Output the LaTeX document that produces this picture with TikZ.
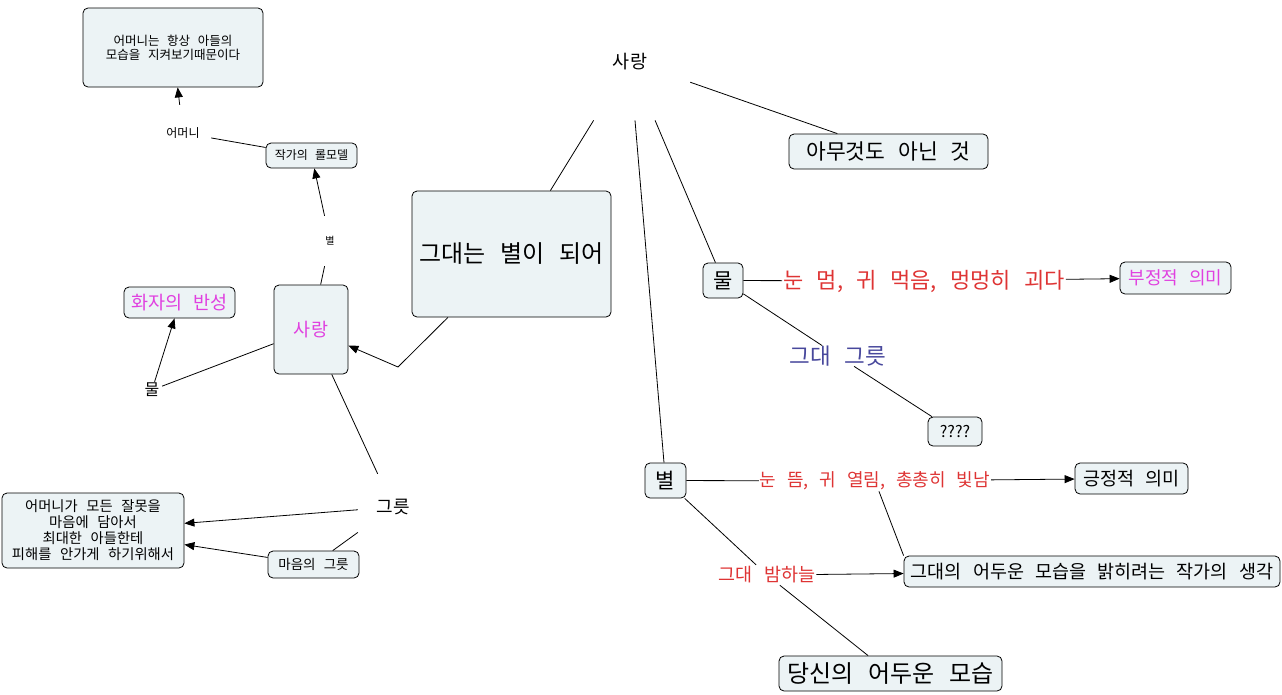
\documentclass[tikz,border=0pt]{standalone}
\usepackage{fontspec}
\setmainfont[WordSpace=2.7]{Noto Sans CJK KR}
\usepackage{xcolor}
\usetikzlibrary{arrows.meta, positioning}
\definecolor{conceptfill}{RGB}{236,243,245}
\definecolor{pinkcol}{RGB}{224,64,224}
\definecolor{redcol}{RGB}{222,52,52}
\definecolor{bluecol}{RGB}{72,72,156}
\newcommand{\kfont}[2]{\fontsize{#1}{#2}\selectfont}

\begin{document}
\begin{tikzpicture}[
  x=1pt, y=-1pt,
  concept/.style={draw=black, fill=conceptfill, rounded corners=5pt,
                  line width=0.8pt, inner sep=0pt, align=center},
  linker/.style={inner sep=0pt, align=center},
  link/.style={line width=0.8pt},
  flow/.style={-{Triangle[length=10pt, width=8pt]}, line width=0.8pt}
]
  \useasboundingbox (0,0) rectangle (1282,694);

  \node[concept, minimum width=180, minimum height=79, font=\kfont{12.5}{14}] (mombox) at (173,47.5)
    {어머니는 항상 아들의\\모습을 지켜보기때문이다};
  \node[concept, minimum width=91, minimum height=25, font=\kfont{12}{14}] (rolemodel) at (311.5,155.5) {작가의 롤모델};
  \node[linker, minimum width=56, minimum height=56, font=\kfont{12}{14}] (mother) at (183,133) {어머니};
  \node[linker, minimum width=24, minimum height=50, font=\kfont{10}{12}] (starsmall) at (330,241) {별};
  \node[concept, minimum width=74, minimum height=89, font=\kfont{18.5}{20}, text=pinkcol] (lovebox) at (311,329.5) {사랑};
  \node[concept, minimum width=111, minimum height=31, font=\kfont{18.5}{20}, text=pinkcol] (reflect) at (179.5,302.5) {화자의 반성};
  \node[linker, minimum width=20, minimum height=16, font=\kfont{16}{18}] (watersmall) at (152,390) {물};
  \node[concept, minimum width=199, minimum height=126, font=\kfont{24}{28}] (starpoem) at (511.5,254) {그대는 별이 되어};
  \coordinate (blank) at (398,367);

  \node[linker, minimum width=120, minimum height=118, anchor=north, font=\kfont{18.5}{20}] (lovetop) at (630,2) {사랑};
  \node[concept, minimum width=199, minimum height=35, font=\kfont{21.5}{26}] (nothing) at (888.5,151.5) {아무것도 아닌 것};

  \node[concept, minimum width=40, minimum height=35, font=\kfont{21}{24}] (water) at (723,280.5) {물};
  \node[linker, inner sep=1pt, font=\kfont{22}{24}, text=redcol] (waterlbl) at (924,281) {눈 멈, 귀 먹음, 멍멍히 괴다};
  \node[concept, minimum width=111, minimum height=32, font=\kfont{18}{20}, text=pinkcol] (negative) at (1175.5,278) {부정적 의미};
  \node[linker, minimum height=20, font=\kfont{22.5}{24}, text=bluecol] (vessel) at (838,356) {그대 그릇};
  \node[concept, minimum width=54, minimum height=29, font=\kfont{16}{18}] (unknown) at (955,431.5) {????};

  \node[concept, minimum width=41, minimum height=35, font=\kfont{21}{24}] (star) at (665.5,480.5) {별};
  \node[linker, inner sep=1pt, minimum height=20, font=\kfont{18}{20}, text=redcol] (starlbl) at (875,481) {눈 뜸, 귀 열림, 총총히 빛남};
  \node[concept, minimum width=113, minimum height=31, font=\kfont{18.5}{20}] (positive) at (1131.5,478.5) {긍정적 의미};
  \node[concept, minimum width=376, minimum height=31, font=\kfont{18.5}{20}] (thought) at (1092,571.5) {그대의 어두운 모습을 밝히려는 작가의 생각};
  \node[linker, inner sep=1pt, minimum height=20, font=\kfont{18.5}{20}, text=redcol] (nightsky) at (767,575) {그대 밤하늘};
  \node[concept, minimum width=223, minimum height=35, font=\kfont{24}{28}] (darkself) at (890.5,673.5) {당신의 어두운 모습};

  \node[linker, minimum width=70, minimum height=66, font=\kfont{18}{20}] (bowl) at (393,507) {그릇};
  \node[concept, minimum width=182, minimum height=75, font=\kfont{14.3}{16}] (forgive) at (93,530.5)
    {어머니가 모든 잘못을\\마음에 담아서\\최대한 아들한테\\피해를 안가게 하기위해서};
  \node[concept, minimum width=91, minimum height=27, font=\kfont{13.5}{15}] (heartbowl) at (313.5,564.5) {마음의 그릇};

  \draw[link] (lovetop) -- (nothing);
  \draw[link] (lovetop) -- (starpoem);
  \draw[link] (lovetop) -- (star);
  \draw[link] (lovetop) -- (water);

  \draw[link] (water) -- (waterlbl);
  \draw[flow] (waterlbl) -- (negative);
  \draw[link] (water) -- (vessel);
  \draw[link] (vessel) -- (unknown);

  \draw[link] (star) -- (starlbl);
  \draw[flow] (starlbl) -- (positive);
  \draw[link] (starlbl) -- (thought.north west);
  \draw[link] (star) -- (nightsky);
  \draw[flow] (nightsky) -- (thought);
  \draw[link] (nightsky) -- (darkself);

  \draw[link] (starpoem) -- (blank);
  \draw[flow] (blank) -- (lovebox);
  \draw[link] (lovebox) -- (starsmall);
  \draw[flow] (starsmall) -- (rolemodel);
  \draw[link] (rolemodel) -- (mother);
  \draw[flow] (mother) -- (mombox);
  \draw[link] (lovebox) -- (watersmall);
  \draw[flow] (watersmall) -- (reflect);
  \draw[link] (lovebox) -- (bowl);
  \draw[flow] (bowl) -- (forgive);
  \draw[link] (bowl) -- (heartbowl);
  \draw[flow] (heartbowl) -- (forgive);
\end{tikzpicture}
\end{document}
